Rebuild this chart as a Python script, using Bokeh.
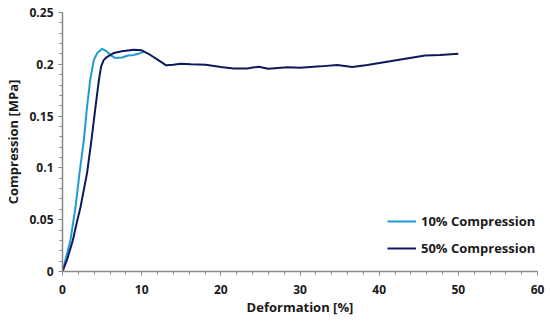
from bokeh.plotting import figure
from bokeh.models import SingleIntervalTicker, CustomJSTickFormatter, Range1d, Legend, LegendItem
from bokeh.embed import file_html
from bokeh.resources import INLINE

# 10% compression curve
x10 = [0, 0.4, 0.8, 1.0, 1.64, 2.15, 2.7, 3.1, 3.5, 3.95, 4.4, 5.0, 5.6, 6.1, 6.7, 7.5, 8.3, 9.0, 9.7, 10.3]
y10 = [0, 0.012, 0.024, 0.030, 0.062, 0.095, 0.127, 0.159, 0.185, 0.204, 0.211, 0.215, 0.2125, 0.2085, 0.206, 0.2065, 0.2085, 0.209, 0.2105, 0.212]

# 50% compression curve
x50 = [0, 0.6, 1.3, 1.8, 2.27, 3.1, 3.66, 4.17, 4.6, 4.88, 5.2, 5.6, 6.06, 6.5, 7.5, 9.0, 10.0, 11.1, 12.2, 13.1, 14.0,
       14.9, 16.2, 18.1, 20.0, 21.6, 23.3, 24.8, 26.0, 28.4, 30.0, 32.6, 34.7, 36.6, 38.5, 41.0, 43.5, 45.8, 47.7, 50.0]
y50 = [0, 0.012, 0.030, 0.047, 0.062, 0.095, 0.127, 0.159, 0.185, 0.198, 0.204, 0.207, 0.209, 0.211, 0.2125, 0.214, 0.2135, 0.209, 0.2035, 0.199, 0.1995,
       0.2006, 0.2, 0.1996, 0.1974, 0.196, 0.196, 0.1977, 0.1957, 0.1972, 0.1967, 0.198, 0.1993, 0.1974, 0.1993, 0.2025, 0.2057, 0.2086, 0.209, 0.2103]

series_names = ["10% Compression", "50% Compression"]
colors = ["#1f9ad6", "#0c1a5a"]

FONT = "Open Sans"
AX = "#898989"

p = figure(width=550, height=319, output_backend="svg", toolbar_location=None,
           x_range=Range1d(0, 60), y_range=Range1d(0, 0.25),
           min_border_left=62, min_border_right=13, min_border_top=12, min_border_bottom=48)
p.outline_line_color = None
p.xgrid.grid_line_color = None
p.ygrid.grid_line_color = None

r10 = p.line(x10, y10, line_color=colors[0], line_width=2)
r50 = p.line(x50, y50, line_color=colors[1], line_width=2)

p.xaxis.ticker = SingleIntervalTicker(interval=10, num_minor_ticks=5)
p.yaxis.ticker = SingleIntervalTicker(interval=0.05, num_minor_ticks=5)
p.yaxis.formatter = CustomJSTickFormatter(code="return String(Number(tick.toFixed(2)));")

for ax in (p.xaxis, p.yaxis):
    ax.axis_line_color = AX
    ax.axis_line_width = 1.5
    ax.major_tick_line_color = AX
    ax.minor_tick_line_color = AX
    ax.major_tick_in = 0
    ax.minor_tick_in = 0
    ax.major_tick_out = 4
    ax.minor_tick_out = 3
    ax.major_label_text_font = FONT
    ax.major_label_text_font_style = "bold"
    ax.major_label_text_font_size = "12px"
    ax.major_label_text_color = "#1a1a1a"
    ax.axis_label_text_font = FONT
    ax.axis_label_text_font_style = "bold"
    ax.axis_label_text_font_size = "13px"
    ax.axis_label_text_color = "#1a1a1a"

p.xaxis.axis_label = "Deformation [%]"
p.yaxis.axis_label = "Compression [MPa]"
p.xaxis.major_label_standoff = 9
p.xaxis.axis_label_standoff = 1
p.yaxis.major_label_standoff = 5
p.yaxis.axis_label_standoff = 4

legend = Legend(items=[LegendItem(label=series_names[0], renderers=[r10]),
                       LegendItem(label=series_names[1], renderers=[r50])],
                location=(325, 13), padding=0, margin=0, spacing=7,
                glyph_width=29, glyph_height=20, label_standoff=5,
                border_line_color=None, background_fill_alpha=0,
                label_text_font=FONT, label_text_font_style="bold",
                label_text_font_size="13px", label_text_color="#1a1a1a")
p.add_layout(legend, "center")

open("out.html", "w").write(file_html(p, INLINE))
